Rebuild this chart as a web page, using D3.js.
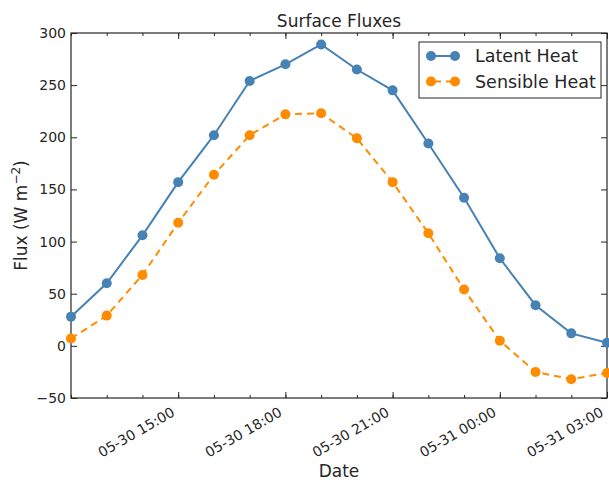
<!DOCTYPE html>
<html>
<head>
<meta charset="utf-8">
<script src="https://cdn.jsdelivr.net/npm/d3@7"></script>
<style>
  body { margin: 0; background: #fff; }
  svg text { font-family: "DejaVu Sans", sans-serif; fill: #262626; }
</style>
</head>
<body>
<svg id="chart" width="609" height="480"></svg>
<script>
// -------- DATA --------
var hours = ["2016-05-30T12:00", "2016-05-30T13:00", "2016-05-30T14:00", "2016-05-30T15:00",
             "2016-05-30T16:00", "2016-05-30T17:00", "2016-05-30T18:00", "2016-05-30T19:00",
             "2016-05-30T20:00", "2016-05-30T21:00", "2016-05-30T22:00", "2016-05-30T23:00",
             "2016-05-31T00:00", "2016-05-31T01:00", "2016-05-31T02:00", "2016-05-31T03:00"];
var latentHeat   = [28, 60, 106, 157, 202, 254, 270, 289, 265, 245, 194, 142, 84, 39, 12, 3];
var sensibleHeat = [7, 29, 68, 118, 164, 202, 222, 223, 199, 157, 108, 54, 5, -25, -32, -26];
var yTicks = [-50, 0, 50, 100, 150, 200, 250, 300];
var seriesNames = ["Latent Heat", "Sensible Heat"];
var seriesColors = ["#4682b4", "#ff8c00"];

var parseTime = d3.timeParse("%Y-%m-%dT%H:%M");
var times = hours.map(parseTime);
var fmt = d3.timeFormat("%m-%d %H:%M");

var margin = {top: 33, right: 2, bottom: 82, left: 71};
var width = 609 - margin.left - margin.right,
    height = 480 - margin.top - margin.bottom;

var svg = d3.select("#chart");
var g = svg.append("g").attr("transform", "translate(" + margin.left + "," + margin.top + ")");

var x = d3.scaleTime().domain(d3.extent(times)).range([0, width]);
var y = d3.scaleLinear().domain([-50, 300]).range([height, 0]);

// ---- axes (ticks inward, like the mpl style) ----
var majorTicks = times.filter(function(t) { return t.getHours() % 3 == 0 && t > times[0]; });

var xAxis = g.append("g").attr("transform", "translate(0," + height + ")");
xAxis.call(d3.axisBottom(x).tickValues(times).tickSize(-3).tickFormat(""))
xAxis.call(function(a) { a.select(".domain").remove(); });
var xMajor = g.append("g").attr("transform", "translate(0," + height + ")")
  .call(d3.axisBottom(x).tickValues(majorTicks).tickSize(-6).tickFormat(fmt));
xMajor.select(".domain").remove();
xMajor.selectAll("text")
  .style("font-size", "14px")
  .style("text-anchor", "end")
  .attr("dy", null)
  .attr("y", 0)
  .attr("transform", "translate(-3,17) rotate(-30)");

// top ticks
var xTop = g.append("g").call(d3.axisTop(x).tickValues(times).tickSize(-3).tickFormat(""));
xTop.select(".domain").remove();
var xTopMaj = g.append("g").call(d3.axisTop(x).tickValues(majorTicks).tickSize(-6).tickFormat(""));
xTopMaj.select(".domain").remove();

var yAxis = g.append("g")
  .call(d3.axisLeft(y).tickValues(yTicks).tickSize(-6).tickPadding(5).tickFormat(function(d) {
    return d < 0 ? "\u2212" + Math.abs(d) : d;
  }));
yAxis.select(".domain").remove();
yAxis.selectAll("text").style("font-size", "14px");

var yRight = g.append("g").attr("transform", "translate(" + width + ",0)")
  .call(d3.axisRight(y).tickValues(yTicks).tickSize(-6).tickFormat(""));
yRight.select(".domain").remove();

g.selectAll(".tick line").attr("stroke", "#262626");

// frame
g.append("rect")
  .attr("width", width).attr("height", height)
  .attr("fill", "none").attr("stroke", "#262626").attr("stroke-width", 1.2);

// ---- lines ----
var series = [latentHeat, sensibleHeat];
var line = d3.line()
  .x(function(d, i) { return x(times[i]); })
  .y(function(d) { return y(d); });

series.forEach(function(vals, k) {
  g.append("path")
    .datum(vals)
    .attr("d", line)
    .attr("fill", "none")
    .attr("stroke", seriesColors[k])
    .attr("stroke-width", 2)
    .attr("stroke-dasharray", k == 1 ? "7,5" : null);
  g.selectAll(".pt" + k)
    .data(vals)
    .enter().append("circle")
    .attr("class", "pt" + k)
    .attr("cx", function(d, i) { return x(times[i]); })
    .attr("cy", function(d) { return y(d); })
    .attr("r", 5)
    .attr("fill", seriesColors[k]);
});

// ---- labels ----
svg.append("text")
  .attr("x", margin.left + width / 2).attr("y", 27)
  .attr("text-anchor", "middle").style("font-size", "17px")
  .text("Surface Fluxes");

svg.append("text")
  .attr("x", margin.left + width / 2).attr("y", 477)
  .attr("text-anchor", "middle").style("font-size", "17px")
  .text("Date");

var yl = svg.append("text")
  .attr("transform", "translate(27," + (margin.top + height / 2) + ") rotate(-90)")
  .attr("text-anchor", "middle").style("font-size", "17px");
yl.append("tspan").text("Flux (W m");
yl.append("tspan").attr("dy", -7).style("font-size", "12px").text("\u22122");
yl.append("tspan").attr("dy", 7).text(")");

// ---- legend ----
var leg = svg.append("g").attr("transform", "translate(419,42)");
leg.append("rect")
  .attr("width", 182).attr("height", 56)
  .attr("fill", "#fff").attr("stroke", "#262626").attr("stroke-width", 1);
seriesNames.forEach(function(name, k) {
  var row = leg.append("g").attr("transform", "translate(0," + (14 + k * 25.5) + ")");
  row.append("line")
    .attr("x1", 12).attr("x2", 36)
    .attr("stroke", seriesColors[k]).attr("stroke-width", 2)
    .attr("stroke-dasharray", k == 1 ? "7,5" : null)
    .attr("stroke-dashoffset", k == 1 ? -3 : null);
  row.selectAll("circle")
    .data([12, 36])
    .enter().append("circle")
    .attr("cx", function(d) { return d; })
    .attr("r", 5)
    .attr("fill", seriesColors[k]);
  row.append("text")
    .attr("x", 56).attr("y", 6)
    .style("font-size", "17.5px")
    .text(name);
});
</script>
</body>
</html>
